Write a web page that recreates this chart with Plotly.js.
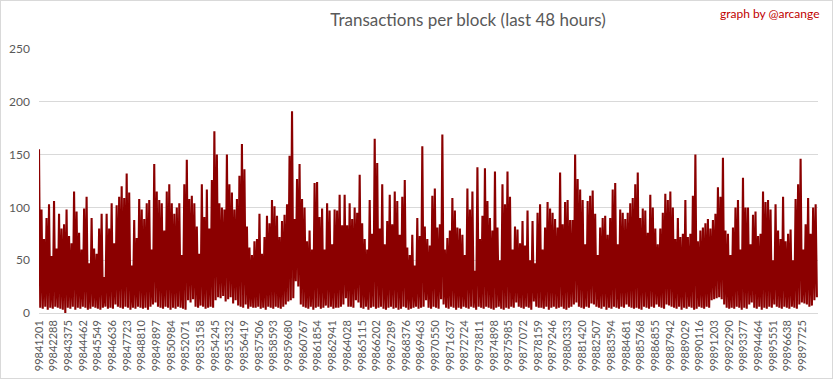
<!DOCTYPE html>
<html>
<head>
<meta charset="utf-8">
<script src="https://cdn.plot.ly/plotly-3.0.1.min.js"></script>
<style>
  html, body { margin: 0; padding: 0; background: #fff; }
  #wrap { position: relative; width: 833px; height: 379px; }
  #chart { width: 833px; height: 379px; }
  #frame { position: absolute; left: 0; top: 0; width: 831px; height: 377px; border: 1px solid #d9d9d9; pointer-events: none; }
</style>
</head>
<body>
<div id="wrap"><div id="chart"></div><div id="frame"></div></div>
<script>
// ---- data ----
const chartTitle = "Transactions per block (last 48 hours)";
const creditText = "graph by @arcange";

// first block shown and block distance between two samples of the envelope
const firstBlock = 99841201;
const blocksPerSample = 185.5;

// category tick labels (every 1087 blocks)
const tickLabels = [
  "99841201","99842288","99843375","99844462","99845549","99846636","99847723","99848810",
  "99849897","99850984","99852071","99853158","99854245","99855332","99856419","99857506",
  "99858593","99859680","99860767","99861854","99862941","99864028","99865115","99866202",
  "99867289","99868376","99869463","99870550","99871637","99872724","99873811","99874898",
  "99875985","99877072","99878159","99879246","99880333","99881420","99882507","99883594",
  "99884681","99885768","99886855","99887942","99889029","99890116","99891203","99892290",
  "99893377","99894464","99895551","99896638","99897725"
];

// peak transactions per block in each sample window
const txHigh = [
  155,98,70,90,103,54,106,61,94,80,84,98,73,66,115,96,76,60,99,110,47,90,61,56,80,94,34,94,80,104,66,102,
  110,120,109,132,114,45,88,71,108,98,89,104,107,60,141,115,
  107,104,78,115,122,104,94,100,104,55,122,145,108,111,104,82,56,122,91,117,80,126,172,150,104,100,98,150,122,114,98,108,130,160,136,82,62,55,
  68,70,94,56,72,92,85,107,101,92,72,87,93,103,149,191,89,127,141,108,100,68,78,60,123,124,91,99,60,104,97,65,98,97,112,83,112,83,
  104,89,100,95,131,85,70,60,107,75,165,142,80,122,65,87,112,84,115,106,74,110,126,62,55,74,45,90,73,158,82,70,64,111,118,81,84,169,
  60,71,78,109,97,81,80,74,55,118,98,115,40,138,70,92,137,106,90,78,134,81,50,122,103,134,110,60,82,79,66,87,64,97,50,87,47,95,
  103,60,81,105,99,95,89,81,133,84,105,107,88,88,150,127,117,107,65,106,111,116,94,55,81,90,92,74,90,117,123,65,98,95,89,95,104,109,
  122,133,90,99,97,76,112,100,80,65,80,95,113,107,115,100,70,90,72,75,107,72,75,111,150,68,78,81,85,89,80,88,94,119,110,147,78,75,
  55,81,100,107,60,128,100,100,65,93,96,73,75,115,105,107,98,50,103,78,70,110,68,75,79,50,108,122,146,60,84,109,75,100,103
];

// lowest transactions per block in each sample window
const txLow = [
  5,4,6,3,5,4,6,5,4,3,0,5,4,6,3,5,4,6,5,3,4,6,5,4,3,5,6,4,5,4,8,6,
  5,4,6,5,3,5,4,6,5,4,5,3,6,8,10,6,
  5,4,6,5,3,5,4,6,5,4,3,12,10,13,6,5,7,6,4,5,6,5,12,15,14,16,11,13,15,9,12,7,6,5,8,4,6,5,
  5,6,4,5,3,6,5,4,6,5,4,6,8,11,12,14,30,25,8,6,5,4,6,3,5,6,4,5,7,5,6,4,5,5,6,8,14,6,
  6,5,12,10,5,4,6,3,5,6,4,5,6,4,3,5,6,4,5,3,4,6,5,3,4,5,6,4,5,6,12,5,4,6,5,4,13,8,
  5,4,6,5,3,5,4,6,5,4,6,5,3,6,5,4,6,5,4,3,5,6,4,3,5,4,6,5,10,6,5,4,6,5,3,11,6,5,
  5,4,6,3,5,6,4,5,6,4,3,5,6,8,10,6,5,4,6,5,9,8,6,5,4,6,3,5,4,6,5,4,6,5,8,6,5,4,
  5,4,3,6,5,4,6,5,8,6,5,4,8,7,6,5,4,6,3,5,4,6,5,3,4,6,5,4,6,5,12,13,14,15,13,8,5,4,
  5,4,6,5,3,5,4,8,10,5,4,6,3,5,4,6,5,8,6,5,4,6,5,4,6,5,4,8,10,9,8,6,7,12,15
];

// ---- build the zig-zag series (peak then trough inside every window) ----
const n = Math.min(txHigh.length, txLow.length);
const xs = [], ys = [];
for (let i = 0; i < n; i++) {
  const b = firstBlock + i * blocksPerSample;
  xs.push(b); ys.push(txHigh[i]);
  xs.push(b + blocksPerSample / 2); ys.push(txLow[i]);
}
const lastBlock = firstBlock + 57680;

const trace = {
  type: "scatter",
  mode: "lines",
  x: xs,
  y: ys,
  line: { color: "#8b0000", width: 2.1 },
  hoverinfo: "skip",
  showlegend: false
};

const font = "Lato, 'Liberation Sans', sans-serif";
const layout = {
  width: 833,
  height: 379,
  margin: { l: 39, r: 15, t: 49, b: 66, pad: 0 },
  paper_bgcolor: "#ffffff",
  plot_bgcolor: "#ffffff",
  showlegend: false,
  title: {
    text: chartTitle,
    font: { family: font, size: 17, color: "#595959" },
    xref: "container", x: 468 / 833, xanchor: "center",
    yref: "container", y: 1 - 20 / 379, yanchor: "middle"
  },
  xaxis: {
    type: "linear",
    range: [firstBlock, lastBlock],
    tickmode: "array",
    tickvals: tickLabels.map(Number),
    ticktext: tickLabels,
    tickangle: -90,
    ticks: "",
    ticklabelstandoff: 4,
    tickfont: { family: font, size: 11, color: "#595959" },
    showgrid: false,
    zeroline: false,
    showline: false,
    fixedrange: true
  },
  yaxis: {
    range: [0, 250],
    tickvals: [0, 50, 100, 150, 200, 250],
    ticks: "",
    ticklabelstandoff: 8,
    tickfont: { family: font, size: 12, color: "#595959" },
    showgrid: true,
    gridcolor: "#d9d9d9",
    gridwidth: 1,
    zeroline: true,
    zerolinecolor: "#d9d9d9",
    zerolinewidth: 1,
    showline: false,
    fixedrange: true
  },
  annotations: [{
    text: creditText,
    xref: "paper", yref: "paper",
    x: (822 - 39) / 779, xanchor: "right",
    y: (312.7 - 14) / 263.4, yanchor: "middle",
    showarrow: false,
    font: { family: font, size: 12, color: "#c00000" }
  }]
};

Plotly.newPlot("chart", [trace], layout, { staticPlot: true, displayModeBar: false });
</script>
</body>
</html>
